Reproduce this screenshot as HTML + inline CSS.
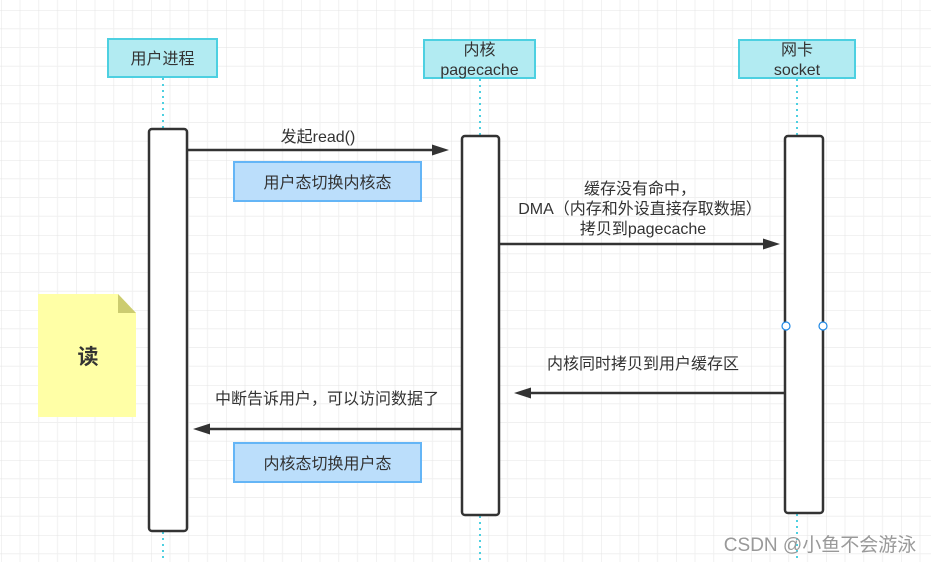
<!DOCTYPE html>
<html><head><meta charset="utf-8"><style>
html,body{margin:0;padding:0;background:#fff;}
svg{display:block;}
text{font-family:"Liberation Sans","Noto Sans CJK SC",sans-serif;fill:#333;}
</style></head><body>
<svg width="931" height="562" viewBox="0 0 931 562" xmlns="http://www.w3.org/2000/svg">
<defs>
<pattern id="g" x="1.25" y="10" width="75" height="75" patternUnits="userSpaceOnUse">
<path d="M18.75 0V75M37.5 0V75M56.25 0V75M0 18.75H75M0 37.5H75M0 56.25H75" stroke="#f0f0f0" stroke-width="1" fill="none"/>
<path d="M0 0V75M0 0H75" stroke="#e4e4e4" stroke-width="1" fill="none"/>
</pattern>
</defs>
<rect width="931" height="562" fill="url(#g)"/>
<g stroke="#4dd0e1" stroke-width="2" stroke-dasharray="2,4">
<line x1="163" y1="78" x2="163" y2="129"/><line x1="163" y1="532" x2="163" y2="562"/>
<line x1="480" y1="79" x2="480" y2="136"/><line x1="480" y1="516" x2="480" y2="562"/>
<line x1="797" y1="79" x2="797" y2="136"/><line x1="797" y1="514" x2="797" y2="562"/>
</g>
<g fill="#b2ebf2" stroke="#4dd0e1" stroke-width="2">
<rect x="108" y="39" width="109" height="38"/>
<rect x="424" y="40" width="111" height="38"/>
<rect x="739" y="40" width="116" height="38"/>
</g>
<text x="162.5" y="64" font-size="16" text-anchor="middle">用户进程</text>
<text x="479.5" y="55" font-size="16" text-anchor="middle">内核</text>
<text x="479.5" y="75" font-size="16" text-anchor="middle">pagecache</text>
<text x="797" y="55" font-size="16" text-anchor="middle">网卡</text>
<text x="797" y="75" font-size="16" text-anchor="middle">socket</text>
<g fill="#fff" stroke="#333" stroke-width="2.5">
<rect x="149" y="129" width="38" height="402" rx="3"/>
<rect x="462" y="136" width="37" height="379" rx="3"/>
<rect x="785" y="136" width="38" height="377" rx="3"/>
</g>
<circle cx="786" cy="326" r="4" fill="#fff" stroke="#1e88e5" stroke-width="1.2"/>
<circle cx="823" cy="326" r="4" fill="#fff" stroke="#1e88e5" stroke-width="1.2"/>
<g stroke="#333" stroke-width="2.5">
<line x1="187" y1="150" x2="436" y2="150"/>
<line x1="499" y1="244" x2="767" y2="244"/>
<line x1="785" y1="393" x2="527" y2="393"/>
<line x1="462" y1="429" x2="206" y2="429"/>
</g>
<g fill="#333">
<path d="M449 150L432 144.5L432 155.5Z"/>
<path d="M780 244L763 238.5L763 249.5Z"/>
<path d="M514 393L531 387.5L531 398.5Z"/>
<path d="M193 429L210 423.5L210 434.5Z"/>
</g>
<text x="318" y="142" font-size="16" text-anchor="middle">发起read()</text>
<text x="640" y="194" font-size="16" text-anchor="middle">缓存没有命中，</text>
<text x="640" y="214" font-size="16" text-anchor="middle">DMA（内存和外设直接存取数据）</text>
<text x="643" y="234" font-size="16" text-anchor="middle">拷贝到pagecache</text>
<text x="643" y="369" font-size="16" text-anchor="middle">内核同时拷贝到用户缓存区</text>
<text x="327" y="404" font-size="16" text-anchor="middle">中断告诉用户，可以访问数据了</text>
<g fill="#bbdefb" stroke="#64b5f6" stroke-width="2">
<rect x="234" y="162" width="187" height="39"/>
<rect x="234" y="443" width="187" height="39"/>
</g>
<text x="327.5" y="188" font-size="16" text-anchor="middle">用户态切换内核态</text>
<text x="327.5" y="469" font-size="16" text-anchor="middle">内核态切换用户态</text>
<path d="M38 294H118L136 313V417H38Z" fill="#ffffa6"/>
<path d="M118 294L136 313H118Z" fill="#cccc70"/>
<text x="88" y="364" font-size="21" font-weight="bold" text-anchor="middle">读</text>
<text x="820" y="551" font-size="19" text-anchor="middle" style="fill:#999">CSDN @小鱼不会游泳</text>
</svg>
</body></html>
